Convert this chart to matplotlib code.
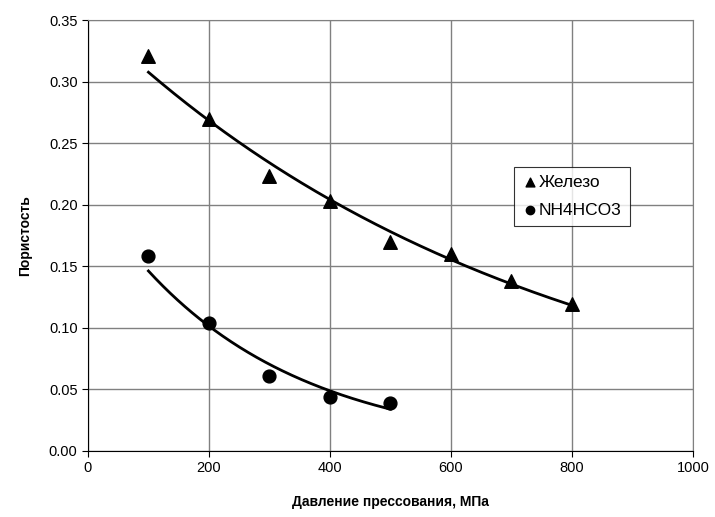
import numpy as np
import matplotlib
matplotlib.use("Agg")
import matplotlib.pyplot as plt
from matplotlib.ticker import FormatStrFormatter

plt.rcParams['font.family'] = ['Liberation Sans', 'DejaVu Sans']

# pressure, MPa
iron_x = [100, 200, 300, 400, 500, 600, 700, 800]
iron_y = [0.321, 0.270, 0.223, 0.203, 0.170, 0.160, 0.138, 0.119]

nh4_x = [100, 200, 300, 400, 500]
nh4_y = [0.158, 0.104, 0.061, 0.044, 0.039]


def exp_trend(x, y):
    # exponential trendline like Excel: y = a*exp(b*x)
    b, ln_a = np.polyfit(x, np.log(y), 1)
    xs = np.linspace(min(x), max(x), 200)
    return xs, np.exp(ln_a) * np.exp(b * xs)


fig = plt.figure(figsize=(7.15, 5.17), dpi=100)
ax = fig.add_axes([0.123, 0.128, 0.846, 0.833])

ax.scatter(iron_x, iron_y, marker='^', s=95, color='black', zorder=3, label='Железо')
ax.scatter(nh4_x, nh4_y, marker='o', s=85, color='black', zorder=3, label='NH4HCO3')

xs, ys = exp_trend(iron_x, iron_y)
ax.plot(xs, ys, color='black', lw=2, zorder=2)
xs, ys = exp_trend(nh4_x, nh4_y)
ax.plot(xs, ys, color='black', lw=2, zorder=2)

ax.set_xlim(0, 1000)
ax.set_ylim(0, 0.35)
ax.set_xticks(np.arange(0, 1001, 200))
ax.set_yticks(np.arange(0, 0.351, 0.05))
ax.yaxis.set_major_formatter(FormatStrFormatter('%.2f'))
ax.grid(True, color='#808080', lw=1)
ax.set_axisbelow(True)
ax.tick_params(direction='out', length=4, labelsize=10.5, color='black')
for s in ['top', 'right']:
    ax.spines[s].set_color('#808080')

ax.set_xlabel('Давление прессования, МПа', fontsize=10, fontweight='bold', labelpad=14)
ax.set_ylabel('Пористость', fontsize=10, fontweight='bold', labelpad=12)

leg = ax.legend(loc='upper left', bbox_to_anchor=(0.704, 0.66), fontsize=12.5,
                frameon=True, fancybox=False, handletextpad=0.0, handlelength=1.0,
                markerscale=0.65, borderpad=0.45, labelspacing=0.75, borderaxespad=0)
leg.get_frame().set_edgecolor('black')
leg.get_frame().set_linewidth(0.8)

fig.savefig('out.png', dpi=100)
